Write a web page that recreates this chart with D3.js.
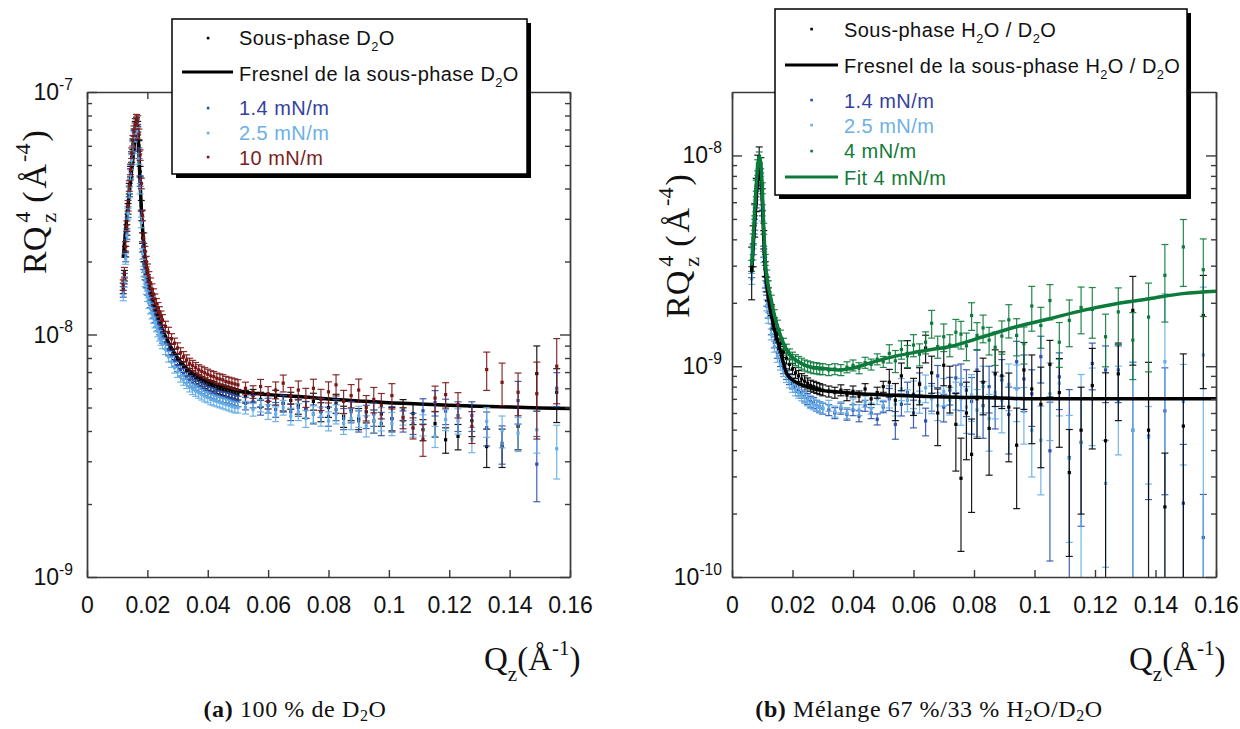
<!DOCTYPE html>
<html><head><meta charset="utf-8">
<script src="https://cdn.jsdelivr.net/npm/d3@7"></script>
<style>body{margin:0;background:#fff}svg{display:block}</style>
</head><body><svg id="c" width="1240" height="729"></svg>
<script>
// ---------- shared axis data ----------
const xTicks = [0, 0.02, 0.04, 0.06, 0.08, 0.1, 0.12, 0.14, 0.16];
const xTickLabels = ["0", "0.02", "0.04", "0.06", "0.08", "0.1", "0.12", "0.14", "0.16"];
const yExpA = [-9, -8, -7];
const yExpB = [-10, -9, -8];

// ---------- panel (a) : 100 % D2O (values in 1e-9 Å^-4) ----------
const qA = [0.0120,0.0124,0.0128,0.0132,0.0136,0.0140,0.0144,0.0148,0.0152,0.0156,0.0160,0.0164,0.0168,0.0172,0.0176,0.0180,0.0184,0.0188,0.0192,0.0196,0.0200,
  0.0205,0.0210,0.0215,0.0220,0.0225,0.0230,0.0235,0.0240,0.0245,0.0250,
  0.026,0.027,0.028,0.029,0.030,0.031,0.032,0.033,0.034,0.035,0.036,0.037,0.038,0.039,0.040,0.041,0.042,0.043,0.044,0.045,0.046,0.047,0.048,0.049,0.050,
  0.0525,0.0550,0.0575,0.0600,0.0625,0.0650,0.0675,0.0700,0.0725,0.0750,0.0775,0.0800,0.0825,0.0850,0.0875,0.0900,0.0925,0.0950,0.0975,0.1010,
  0.1047,0.1080,0.1113,0.1153,0.1188,0.1229,0.1275,0.1324,0.1375,0.1428,0.1490,0.1556];
const aD2O = [15.5,17.5,22,27,33,40,47,54,61,67,72,75,72,60,47,34,25,21,19,17.6,16.4,
  15.4,14.6,13.9,13.3,12.7,12.2,11.7,11.2,10.8,10.4,
  9.8,9.2,8.7,8.3,7.9,7.6,7.35,7.1,6.9,6.75,6.6,6.5,6.4,6.3,6.2,6.15,6.1,6.0,5.95,5.9,5.85,5.8,5.75,5.7,5.65,
  5.55,5.6,5.4,5.3,5.5,5.2,5.35,5.1,4.9,5.3,4.8,5.0,5.2,4.6,4.9,4.5,4.8,4.4,4.7,4.5,
  4.9,4.72,4.05,4.29,3.68,3.80,4.41,3.45,3.45,4.18,6.9,5.78];
const a14 = [15,17,21,26,32,39,46,53,60,66,71,74,70,56,43,31,23,19.5,17.7,16.4,15.3,
  14.4,13.6,12.9,12.3,11.8,11.3,10.9,10.5,10.1,9.7,
  9.2,8.6,8.15,7.8,7.4,7.1,6.9,6.65,6.45,6.35,6.2,6.1,6.0,5.9,5.8,5.75,5.7,5.6,5.55,5.5,5.5,5.45,5.4,5.35,5.3,
  5.2,5.3,5.0,5.1,4.9,5.2,4.8,5.0,4.9,4.7,5.0,4.6,4.9,4.5,4.8,4.4,4.6,4.7,4.3,4.5,
  4.4,4.3,4.85,5.24,4.83,4.63,4.63,4.13,3.56,5.34,2.92,6.0];
const a25 = [14.5,16.5,20.5,25.5,31.5,38.5,45.5,52.5,59.5,65.5,70.5,73.5,68,53,40,29,21.5,18.2,16.6,15.4,14.4,
  13.5,12.8,12.2,11.7,11.2,10.8,10.3,9.9,9.5,9.2,
  8.7,8.1,7.7,7.3,7.0,6.7,6.5,6.3,6.1,5.95,5.85,5.75,5.65,5.55,5.5,5.4,5.35,5.3,5.25,5.2,5.15,5.1,5.05,5.0,5.0,
  5.0,4.9,5.1,4.8,4.7,5.0,4.6,4.8,4.5,4.7,4.6,4.4,4.7,4.3,4.5,4.6,4.2,4.4,4.5,4.3,
  4.6,4.1,4.24,3.80,4.46,4.41,3.70,4.38,4.01,3.92,4.05,3.38];
const a10 = [16,18,23,28,34,41,48,56,63,69,74,77,76,67,55,42,31,25,22,20,18.6,
  17.3,16.3,15.4,14.7,14.0,13.4,12.9,12.4,11.9,11.5,
  10.8,10.2,9.6,9.2,8.8,8.4,8.1,7.85,7.6,7.45,7.3,7.15,7.05,6.95,6.85,6.75,6.7,6.6,6.55,6.5,6.4,6.35,6.3,6.25,6.2,
  6.0,5.8,6.1,5.7,5.9,6.3,5.6,5.9,5.5,6.0,5.4,5.8,6.2,5.3,5.6,5.9,5.0,5.4,5.1,5.6,
  4.54,4.12,3.70,5.47,5.65,5.14,4.18,7.17,6.35,5.78,5.7,7.4];
// relative errors (%) : one value for the dense low-Q part, then point by point
const nLowA = 56;
const errLowA = 5;
const errA_D2O = [6,6,7,7,7,7,8,8,8,8,9,9,9,10,10,10,10,11,11,11, 10,10,10,12,12,12,14,18,18,20,30,25];
const errA_14  = [6,6,7,7,7,8,8,8,8,9,9,9,10,10,10,10,11,11,11,12, 10,10,12,12,12,14,14,16,18,20,30,16];
const errA_25  = [6,6,6,7,7,7,8,8,8,8,9,9,9,10,10,10,10,11,11,11, 8,8,10,10,10,12,12,14,15,16,20,25];
const errA_10  = [6,6,7,7,8,8,8,9,9,9,10,10,10,11,11,11,12,12,12,12, 10,10,15,12,12,12,15,18,20,20,35,30];
const qFresA = [0.012,0.013,0.014,0.015,0.016,0.0165,0.017,0.0175,0.018,0.019,0.020,0.022,0.025,0.030,0.035,0.040,0.050,0.060,0.070,0.080,0.090,0.100,0.110,0.120,0.130,0.140,0.150,0.160];
const fresA = [20.7,28.6,38.4,50.6,65.5,74.1,64,45,33,22,17.5,13.6,10.5,8.0,6.9,6.4,5.85,5.65,5.55,5.42,5.32,5.23,5.17,5.11,5.06,5.02,4.98,4.95];

// ---------- panel (b) : 67/33 H2O/D2O (values in 1e-10 Å^-4) ----------
const qB = [0.0065,0.0070,0.0075,0.0080,0.0085,0.0090,0.0095,0.0100,0.0105,0.0110,0.0115,0.0120,
  0.013,0.014,0.015,0.016,0.017,0.018,0.019,0.020,0.021,0.022,0.023,0.024,0.025,0.026,0.027,0.028,0.029,0.030,
  0.032,0.034,0.036,0.038,0.040,0.042,0.044,0.046,0.048,0.050,
  0.052,0.054,0.056,0.058,0.060,0.062,0.064,0.066,0.068,0.070,0.072,0.074,
  0.0757,0.0775,0.0792,0.0810,0.0830,0.0850,0.0870,0.0892,0.0915,0.0941,0.0965,0.0991,0.1021,0.1051,0.1082,0.1115,0.1154,0.1191,0.1235,0.1277,0.1325,0.1377,0.1431,0.1492,0.1558];
const bMix = [28.7,38,50,66,85,93,85,62,40,29,24.5,22,
  18.5,16.0,14.2,12.8,11.7,10.9,10.2,9.7,9.3,9.0,8.7,8.5,8.3,8.1,8.0,7.9,7.8,7.7,
  7.6,7.5,7.7,7.3,7.6,7.2,7.8,7.0,7.5,8.0,
  8.4,6.9,9.0,11.5,7.3,8.2,12.2,9.3,6.0,10.1,8.0,5.3,
  2.94,6.0,3.82,7.0,8.4,5.07,9.2,9.0,6.4,4.22,9.6,7.8,6.6,10.2,7.5,3.13,4.97,8.1,4.43,9.2,18.4,4.97,2.15,5.2,17.4];
const b14 = [28,36,47,60,76,85,78,55,35,25,20.5,18,
  15,13,11.6,10.6,9.8,9.2,8.7,8.3,8.0,7.7,7.5,7.2,7.0,6.8,6.7,6.5,6.4,6.3,
  6.2,6.0,6.3,5.9,6.2,5.8,6.5,6.0,5.6,6.4,
  7.0,5.3,6.6,7.5,6.0,8.3,5.5,7.2,9.0,6.4,7.7,8.8,
  8.2,7.7,6.8,9.6,6.5,8.0,7.2,8.6,5.9,10.5,8.7,7.4,11.1,3.97,8.9,3.69,4.35,10.3,9.6,9.6,4.97,4.66,6.14,2.24,1.54];
const b25 = [26,34,45,58,73,82,75,52,33,24,19.5,17,
  14.2,12.4,11.1,10.2,9.5,8.9,8.4,8.0,7.7,7.5,7.3,7.1,6.9,6.7,6.6,6.5,6.4,6.3,
  6.5,6.1,6.4,6.0,6.6,6.2,6.8,6.3,7.0,6.5,
  7.2,6.6,7.8,6.9,7.4,6.8,7.9,7.0,6.5,7.6,6.9,7.3,
  7.0,6.4,7.3,6.2,8.0,5.65,7.5,6.9,8.2,7.8,6.1,4.97,4.46,7.4,8.3,3.65,4.35,7.0,2.78,6.9,4.97,4.6,10.5,6.8,11.3];
const b4 = [30,40,55,72,90,98,92,70,45,32,27,24,
  20.5,17.5,15.6,14.0,12.8,12.0,11.4,11.0,10.7,10.5,10.3,10.1,10.0,9.9,9.8,9.8,9.7,9.7,
  9.6,9.7,9.6,9.9,10.1,9.8,10.4,10.2,10.8,10.5,
  11.5,10.6,12.0,11.2,12.6,11.4,13.0,16.0,12.4,13.8,12.6,14.5,
  14.2,12.5,17.4,14.0,15.2,13.3,12.3,13.9,16.6,14.0,12.8,19.3,15.6,20.5,13.0,16.5,19.0,18.6,13.8,18.1,13.3,17.1,27.0,36.8,28.7];
const nLowB = 40;
const errLowB = 6;
const errPeakB_Mix = [28,22,18,18,18,18,15,12,10,8,8,7];
const errB_Mix = [15,20,15,15,20,20,15,20,30,20,25,40, 55,40,47,35,30,40,30,30,45,50,35,45,50,30,45,60,60,50,110,40,45,110,80,120,55];
const errB_14  = [12,15,12,12,15,12,15,15,12,15,15,15, 25,25,30,25,30,25,30,25,35,25,30,30,25,70,30,110,60,25,30,30,110,50,60,90,60];
const errB_25  = [12,12,12,12,15,12,15,15,15,15,15,15, 25,25,25,25,25,30,25,30,25,30,30,40,45,40,30,60,110,40,60,45,110,40,110,50,110];
const errB_4   = [10,12,10,12,12,12,12,15,12,15,12,15, 15,15,15,15,15,15,18,18,18,20,20,24,22,19,24,25,25,27,28,30,35,45,40,35,40];
const qFresB = [0.0065,0.007,0.0075,0.008,0.0085,0.009,0.0095,0.010,0.0105,0.011,0.012,0.013,0.014,0.015,0.016,0.018,0.020,0.0227,0.025,0.029,0.035,0.040,0.051,0.062,0.082,0.100,0.130,0.160];
const fresB = [28,37,48,62,80,92,85,62,40,29,21.5,17.5,15,13.2,11.8,9.3,8.6,8.2,8.0,7.7,7.55,7.45,7.3,7.2,7.1,7.0,7.0,7.0];
const qFitB = [0.0065,0.007,0.0075,0.008,0.0085,0.009,0.0095,0.010,0.0105,0.011,0.012,0.013,0.014,0.016,0.018,0.020,0.023,0.026,0.029,0.035,0.040,0.045,0.051,0.060,0.066,0.072,0.083,0.094,0.105,0.116,0.127,0.138,0.149,0.160];
const fitB = [30,40,55,72,90,98,92,70,45,32,24,20.5,17.5,14.0,12.0,11.0,10.3,9.9,9.8,9.6,9.8,10.3,10.9,11.6,12.0,12.4,13.8,15.4,16.8,18.4,19.8,20.9,22.1,22.7];

// ---------- colours ----------
const C = {black:"#000000", blue:"#2b50ad", light:"#62ade5", red:"#7a1616", green:"#0b7a3b"};
const T = {blue:"#353f9e", light:"#6cb0e6", red:"#7a1e1e", green:"#137a3a"};
const SANS = "'Liberation Sans', Arial, sans-serif";
const SERIF = "'Liberation Serif', 'Times New Roman', serif";

const svg = d3.select("#c");
svg.append("rect").attr("width", 1240).attr("height", 729).attr("fill", "#fff");
const defs = svg.append("defs");

function rich(parent, x, y, parts, fs, family, fill, anchor, supScale) {
  const t = parent.append("text").attr("x", x).attr("y", y).attr("font-size", fs)
    .attr("font-family", family).attr("fill", fill || "#000");
  if (anchor) t.attr("text-anchor", anchor);
  let cur = 0;
  parts.forEach(([s, m]) => {
    const target = m === 1 ? fs * 0.32 : m === 2 ? -fs * 0.45 : 0;
    const sp = t.append("tspan").attr("dy", target - cur).text(s);
    if (m) sp.attr("font-size", fs * (supScale || 0.64));
    cur = target;
  });
  return t;
}

function drawPanel(o) {
  const x = d3.scaleLinear().domain([0, 0.16]).range([o.x0, o.x1]);
  const y = d3.scaleLog().domain(o.yDomain).range([o.y1, o.y0]);
  const g = svg.append("g");
  defs.append("clipPath").attr("id", o.id).append("rect")
    .attr("x", o.x0).attr("y", o.y0).attr("width", o.x1 - o.x0).attr("height", o.y1 - o.y0);
  const plot = g.append("g").attr("clip-path", `url(#${o.id})`);
  const drawLines = list => list.forEach(l => {
    plot.append("path")
      .datum(l.q.map((q, i) => [q, l.v[i] * o.unit]))
      .attr("fill", "none").attr("stroke", l.color).attr("stroke-width", l.width)
      .attr("d", d3.line().x(d => x(d[0])).y(d => y(d[1])).curve(d3.curveMonotoneX));
  });
  drawLines(o.linesUnder);

  o.series.forEach(s => {
    const sg = plot.append("g").attr("stroke", s.color).attr("fill", s.color);
    s.values.forEach((v, i) => {
      const val = v * o.unit, e = s.err(i) / 100;
      const px = x(s.q[i]), py = y(val);
      const hi = val * (1 + e), lo = val * (1 - e);
      const yHi = y(hi);
      const loIn = lo > o.yDomain[0];
      const yLo = loIn ? y(lo) : o.y1 + 2;
      sg.append("line").attr("x1", px).attr("x2", px).attr("y1", yHi).attr("y2", yLo)
        .attr("stroke-width", 1.2).attr("stroke-opacity", 0.9);
      sg.append("line").attr("x1", px - 3.5).attr("x2", px + 3.5).attr("y1", yHi).attr("y2", yHi)
        .attr("stroke-width", 1.2).attr("stroke-opacity", 0.9);
      if (loIn) sg.append("line").attr("x1", px - 3.5).attr("x2", px + 3.5).attr("y1", yLo).attr("y2", yLo)
        .attr("stroke-width", 1.2).attr("stroke-opacity", 0.9);
      sg.append("rect").attr("x", px - 1.6).attr("y", py - 1.6).attr("width", 3.2).attr("height", 3.2).attr("stroke", "none");
    });
  });
  drawLines(o.linesOver);

  // axes (ticks inward on all four sides)
  const axCol = "#3a3a3a";
  const minors = [];
  const e0 = Math.floor(Math.log10(o.yDomain[0])), e1 = Math.ceil(Math.log10(o.yDomain[1]));
  for (let e = e0; e < e1; e++) for (let k = 2; k <= 9; k++) {
    const v = k * Math.pow(10, e);
    if (v > o.yDomain[0] * 1.0001 && v < o.yDomain[1] * 0.9999) minors.push(v);
  }
  const majors = o.yExps.map(e => Math.pow(10, e));
  const style = sel => {
    sel.selectAll("path,line").attr("stroke", axCol).attr("stroke-width", 1.4);
    sel.selectAll("text").attr("font-family", SANS).attr("font-size", 23).attr("fill", "#111");
  };
  g.append("g").attr("transform", `translate(0,${o.y1})`)
    .call(d3.axisBottom(x).tickValues(xTicks).tickSize(-7).tickSizeOuter(0).tickPadding(20)
      .tickFormat((d, i) => xTickLabels[i])).call(style);
  g.append("g").attr("transform", `translate(0,${o.y0})`)
    .call(d3.axisTop(x).tickValues(xTicks).tickSize(-7).tickSizeOuter(0).tickFormat("")).call(style);
  g.append("g").attr("transform", `translate(${o.x0},0)`)
    .call(d3.axisLeft(y).tickValues(majors).tickSize(-10).tickSizeOuter(0).tickFormat("")).call(style);
  g.append("g").attr("transform", `translate(${o.x0},0)`)
    .call(d3.axisLeft(y).tickValues(minors).tickSize(-5).tickSizeOuter(0).tickFormat("")).call(style);
  g.append("g").attr("transform", `translate(${o.x1},0)`)
    .call(d3.axisRight(y).tickValues(majors).tickSize(-10).tickSizeOuter(0).tickFormat("")).call(style);
  g.append("g").attr("transform", `translate(${o.x1},0)`)
    .call(d3.axisRight(y).tickValues(minors).tickSize(-5).tickSizeOuter(0).tickFormat("")).call(style);

  o.yExps.forEach(e => {
    rich(g, o.x0 - o.labGap, y(Math.pow(10, e)) + 8, [["10", 0], [String(e), 2]], 23, SANS, "#111", "end", 0.68);
  });

  // y title (rotated), pieces placed one after another along the baseline
  const yt = g.append("g").attr("transform", `translate(${o.ytx},${o.yty}) rotate(-90)`);
  let cx = 0;
  const put = (s, fs, dy) => {
    const t = yt.append("text").attr("x", cx).attr("y", dy).attr("font-size", fs)
      .attr("font-family", SERIF).attr("fill", "#111").text(s);
    return t.node().getComputedTextLength();
  };
  cx += put("RQ", 34, 0) + 4;
  const w4 = put("4", 22, -16); put("z", 22, 10); cx += w4 + 9;
  cx += put("(", 34, 0) + 3;
  cx += put("Å", 34, 0) + 2;
  cx += put("-4", 22, -16) + 2;
  put(")", 34, 0);

  // x title
  const xt = g.append("g").attr("transform", `translate(${o.xtx},${o.xty})`);
  cx = 0;
  const putx = (s, fs, dy) => {
    const t = xt.append("text").attr("x", cx).attr("y", dy).attr("font-size", fs)
      .attr("font-family", SERIF).attr("fill", "#111").text(s);
    return t.node().getComputedTextLength();
  };
  cx += putx("Q", 33, 0);
  cx += putx("z", 21, 11);
  cx += putx("(Å", 33, 0);
  cx += putx("-1", 21, -15);
  putx(")", 33, 0);
}

function legend(bx, by, bw, bh, mx, tx, entries) {
  const g = svg.append("g");
  g.append("rect").attr("x", bx + 4).attr("y", by + 4).attr("width", bw).attr("height", bh).attr("fill", "#000");
  g.append("rect").attr("x", bx).attr("y", by).attr("width", bw).attr("height", bh)
    .attr("fill", "#fff").attr("stroke", "#000").attr("stroke-width", 1.5);
  entries.forEach(en => {
    if (en.kind === "dot") {
      g.append("rect").attr("x", mx - 1.2).attr("y", en.my - 1.2).attr("width", 2.6).attr("height", 2.6).attr("fill", en.color);
    } else {
      g.append("line").attr("x1", en.lx0).attr("x2", en.lx1).attr("y1", en.my).attr("y2", en.my)
        .attr("stroke", en.color).attr("stroke-width", 3);
    }
    rich(g, tx, en.ty, en.parts, 20, SANS, en.tcolor).attr("letter-spacing", 0.45);
  });
}

const aSeries = [
  {q: qA, values: aD2O, color: C.black, err: i => i < nLowA ? errLowA : errA_D2O[i - nLowA]},
  {q: qA, values: a14, color: C.blue, err: i => i < nLowA ? errLowA : errA_14[i - nLowA]},
  {q: qA, values: a25, color: C.light, err: i => i < nLowA ? errLowA : errA_25[i - nLowA]},
  {q: qA, values: a10, color: C.red, err: i => i < nLowA ? errLowA : errA_10[i - nLowA]}
];
drawPanel({id: "clipA", x0: 87, x1: 570, y0: 92, y1: 577, yDomain: [1e-9, 1e-7], unit: 1e-9,
  yExps: yExpA, labGap: 14, series: aSeries,
  linesUnder: [{q: qFresA, v: fresA, color: "#000", width: 3.5}], linesOver: [],
  ytx: 46, yty: 274, xtx: 484, xty: 670});

const bErr = (peak, arr) => i => (peak && i < peak.length) ? peak[i] : (i < nLowB ? errLowB : arr[i - nLowB]);
const bSeries = [
  {q: qB, values: b14, color: C.blue, err: bErr(null, errB_14)},
  {q: qB, values: b25, color: C.light, err: bErr(null, errB_25)},
  {q: qB, values: bMix, color: C.black, err: bErr(errPeakB_Mix, errB_Mix)},
  {q: qB, values: b4, color: C.green, err: bErr(null, errB_4)}
];
drawPanel({id: "clipB", x0: 732, x1: 1216, y0: 92, y1: 577, yDomain: [1e-10, 2e-8], unit: 1e-10,
  yExps: yExpB, labGap: 10, series: bSeries, linesUnder: [],
  linesOver: [{q: qFresB, v: fresB, color: "#000", width: 3.5}, {q: qFitB, v: fitB, color: C.green, width: 3.5}],
  ytx: 689, yty: 318, xtx: 1129, xty: 670});

legend(172, 19, 355, 155, 208, 239, [
  {kind: "dot", my: 38, color: "#000", ty: 45, tcolor: "#111", parts: [["Sous-phase D", 0], ["2", 1], ["O", 0]]},
  {kind: "line", my: 72, lx0: 182, lx1: 233, color: "#000", ty: 81, tcolor: "#111", parts: [["Fresnel de la sous-phase D", 0], ["2", 1], ["O", 0]]},
  {kind: "dot", my: 108, color: C.blue, ty: 115, tcolor: T.blue, parts: [["1.4 mN/m", 0]]},
  {kind: "dot", my: 133, color: C.light, ty: 140, tcolor: T.light, parts: [["2.5 mN/m", 0]]},
  {kind: "dot", my: 157, color: C.red, ty: 165, tcolor: T.red, parts: [["10 mN/m", 0]]}
]);
legend(775, 9, 412, 186, 811.5, 844, [
  {kind: "dot", my: 29, color: "#000", ty: 37, tcolor: "#111", parts: [["Sous-phase H", 0], ["2", 1], ["O / D", 0], ["2", 1], ["O", 0]]},
  {kind: "line", my: 65, lx0: 785, lx1: 838, color: "#000", ty: 73, tcolor: "#111", parts: [["Fresnel de la sous-phase H", 0], ["2", 1], ["O / D", 0], ["2", 1], ["O", 0]]},
  {kind: "dot", my: 100, color: C.blue, ty: 108, tcolor: T.blue, parts: [["1.4 mN/m", 0]]},
  {kind: "dot", my: 125, color: C.light, ty: 133, tcolor: T.light, parts: [["2.5 mN/m", 0]]},
  {kind: "dot", my: 151, color: C.green, ty: 158, tcolor: T.green, parts: [["4 mN/m", 0]]},
  {kind: "line", my: 177, lx0: 785, lx1: 838, color: C.green, ty: 185, tcolor: T.green, parts: [["Fit 4 mN/m", 0]]}
]);

// captions
function caption(cxm, y, label, parts) {
  const t = svg.append("text").attr("x", cxm).attr("y", y).attr("text-anchor", "middle")
    .attr("font-family", SERIF).attr("font-size", 24).attr("letter-spacing", 0.6).attr("fill", "#111");
  t.append("tspan").attr("font-weight", "bold").text(label);
  let cur = 0;
  parts.forEach(([s, m]) => {
    const target = m === 1 ? 4 : 0;
    const sp = t.append("tspan").attr("dy", target - cur).text(s);
    if (m) sp.attr("font-size", 16);
    cur = target;
  });
}
caption(295, 717, "(a)", [[" 100 % de D", 0], ["2", 1], ["O", 0]]);
caption(929, 717, "(b)", [[" Mélange 67 %/33 % H", 0], ["2", 1], ["O/D", 0], ["2", 1], ["O", 0]]);
</script></body></html>
